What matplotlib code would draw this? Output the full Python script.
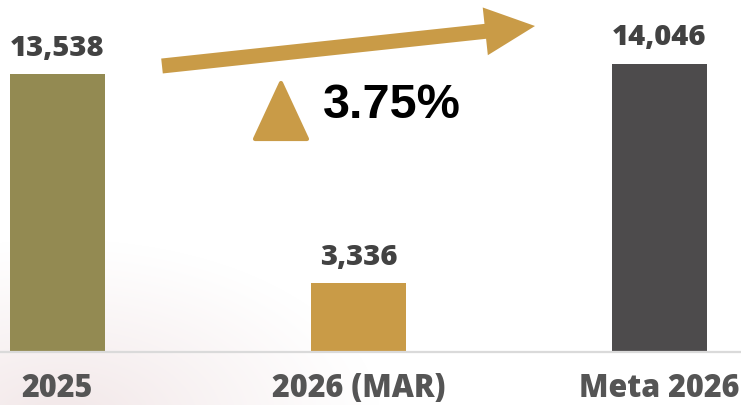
import numpy as np
import matplotlib
matplotlib.use("Agg")
import matplotlib.pyplot as plt
from matplotlib.patches import Polygon

# datos
categorias = ['2025', '2026 (MAR)', 'Meta 2026']
valores = [13538, 3336, 14046]
colores = ['#938A52', '#C99B47', '#4D4B4C']
variacion = '3.75%'

W, H = 741, 406
fig = plt.figure(figsize=(W / 100, H / 100), dpi=100)
fig.patch.set_facecolor('white')

# fondo con un degradado rosado muy suave abajo a la izquierda
bg = fig.add_axes([0, 0, 1, 1], zorder=0)
yy, xx = np.mgrid[0:H, 0:W]
d = np.sqrt(((xx - 60) / 320.0) ** 2 + ((yy - 420) / 180.0) ** 2)
a = np.clip(1 - d, 0, 1) ** 1.1
img = np.ones((H, W, 3))
tinte = np.array([242, 231, 232]) / 255.0
for k in range(3):
    img[..., k] = 1 - a * (1 - tinte[k])
bg.imshow(img, extent=(0, W, H, 0), aspect='auto')
bg.set_xlim(0, W)
bg.set_ylim(H, 0)
bg.axis('off')

# barras
base_px = 353
ax = fig.add_axes([0, (H - base_px) / H, 1, base_px / H], zorder=1)
ax.patch.set_alpha(0)
x = np.arange(len(categorias))
bars = ax.bar(x, valores, width=0.316, color=colores)
ax.set_xlim(-0.191, 2.272)
ax.set_ylim(0, valores[0] * base_px / 278.0)

etiquetas = [f'{v:,}' for v in valores]
ax.bar_label(bars, labels=etiquetas, padding=9, fontsize=21,
             fontweight=800, family='Open Sans', color='#424242')

for s in ['top', 'left', 'right']:
    ax.spines[s].set_visible(False)
ax.spines['bottom'].set_color('#DADADA')
ax.spines['bottom'].set_linewidth(1.6)
ax.set_yticks([])
ax.set_xticks(x)
ax.set_xticklabels(categorias, fontsize=22, fontweight=800,
                   family='Open Sans', color='#555555')
for t in ax.get_xticklabels():
    t.set_va('baseline')
ax.tick_params(axis='x', length=0, pad=31.5)

# flecha, triangulo y porcentaje
ov = fig.add_axes([0, 0, 1, 1], zorder=2)
ov.patch.set_alpha(0)
ov.set_xlim(0, W)
ov.set_ylim(H, 0)
ov.axis('off')

p0 = np.array([162.0, 67.0])
p1 = np.array([535.0, 27.0])
u = (p1 - p0) / np.linalg.norm(p1 - p0)
n = np.array([-u[1], u[0]])
hb = p1 - u * 50
flecha = [p0 + n * 7.5, hb + n * 7.5, hb + n * 24, p1,
          hb - n * 24, hb - n * 7.5, p0 - n * 7.5]
ov.add_patch(Polygon(flecha, closed=True, facecolor='#C99B47',
                     edgecolor='none'))

tri = [(281, 84), (307, 140), (255, 140)]
ov.add_patch(Polygon(tri, closed=True, facecolor='#C99B47',
                     edgecolor='#C99B47', linewidth=3, joinstyle='round'))

ov.text(323, 118, variacion, fontsize=35, fontweight='bold',
        family='Liberation Sans', color='black', ha='left', va='baseline')

fig.savefig('out.png', dpi=100)
